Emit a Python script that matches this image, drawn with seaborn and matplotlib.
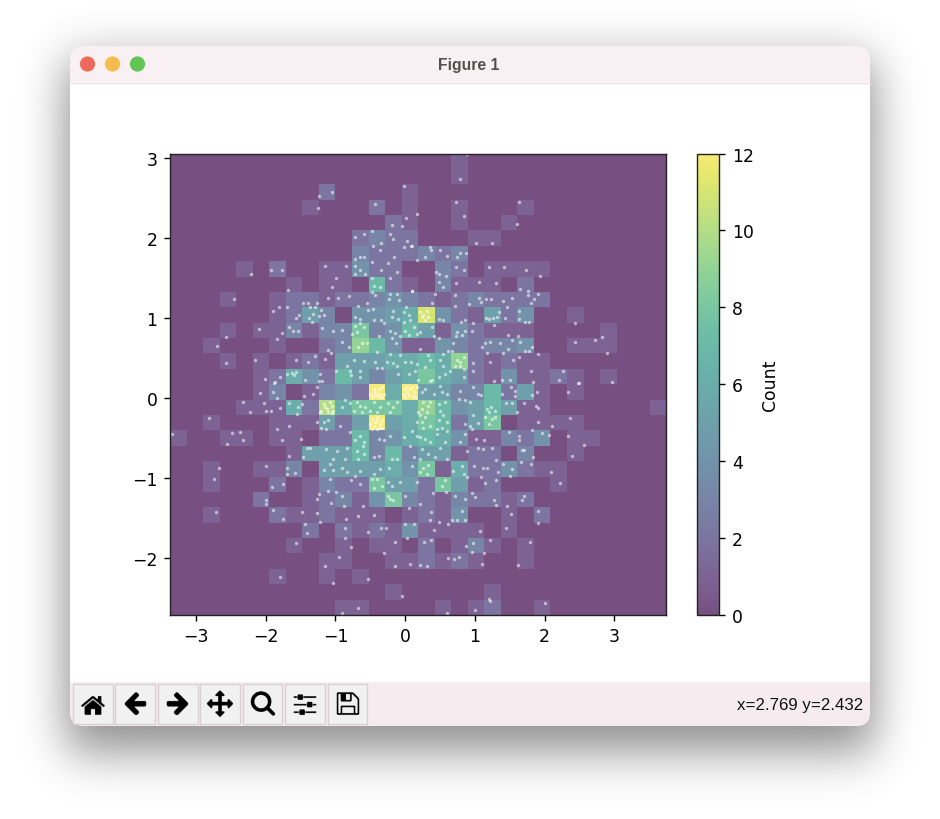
import math, os
import numpy as np
import pandas as pd
import matplotlib
matplotlib.use("Agg")
import matplotlib.pyplot as plt
from matplotlib.colors import ListedColormap
from matplotlib.patches import FancyBboxPatch, Circle, Rectangle
import seaborn as sns

# ---------- data ----------
counts = [
 [0,0,0,0,0,0,0,0,0,0,0,0,0,0,0,0,0,1,0,0,0,0,0,0,0,0,0,0,0,0],
 [0,0,0,0,0,0,0,0,0,0,0,0,0,0,0,0,0,1,0,0,0,0,0,0,0,0,0,0,0,0],
 [0,0,0,0,0,0,0,0,0,2,0,0,0,0,1,0,0,0,0,0,0,0,0,0,0,0,0,0,0,0],
 [0,0,0,0,0,0,0,0,1,0,0,0,2,0,1,0,0,1,0,0,0,1,0,0,0,0,0,0,0,0],
 [0,0,0,0,0,0,0,0,0,0,0,0,0,2,1,0,0,1,0,0,1,0,0,0,0,0,0,0,0,0],
 [0,0,0,0,0,0,0,0,0,0,0,2,3,2,2,0,0,0,1,1,0,0,0,0,0,0,0,0,0,0],
 [0,0,0,0,0,0,0,0,0,0,0,3,2,2,2,3,2,3,0,0,0,0,0,0,0,0,0,0,0,0],
 [0,0,0,0,1,0,2,0,0,1,1,4,2,2,0,0,3,2,0,1,1,1,1,0,0,0,0,0,0,0],
 [0,0,0,0,0,0,0,1,0,1,1,0,7,2,1,0,3,1,1,1,0,2,0,0,0,0,0,0,0,0],
 [0,0,0,1,0,0,1,2,2,1,2,2,3,4,3,2,1,2,3,2,2,2,2,0,0,0,0,0,0,0],
 [0,0,0,0,0,0,1,2,5,3,0,4,4,5,6,11,4,2,1,5,2,4,0,0,1,0,0,0,0,0],
 [0,0,0,1,0,1,1,3,1,3,3,8,3,4,7,5,1,4,2,1,1,1,0,0,0,0,1,0,0,0],
 [0,0,1,0,0,0,1,0,0,2,3,9,7,4,1,1,4,3,2,3,3,4,0,0,1,1,1,0,0,0],
 [0,0,0,1,0,1,0,1,2,1,5,5,5,6,6,7,6,9,2,1,2,1,1,0,0,0,0,0,0,0],
 [0,0,0,0,0,1,2,6,4,2,7,5,3,5,6,8,6,5,2,1,4,1,1,2,1,0,1,0,0,0],
 [0,0,0,0,0,1,3,0,1,3,4,2,12,6,12,5,5,3,3,7,2,5,1,0,1,0,0,0,0,0],
 [0,0,0,0,1,1,1,6,2,10,6,8,8,8,6,9,7,4,5,7,5,1,1,0,0,0,0,0,0,1],
 [0,0,1,0,0,0,1,1,1,5,2,5,12,5,6,8,7,2,5,8,0,1,1,1,1,0,0,0,0,0],
 [1,0,0,1,1,0,1,1,0,2,2,7,3,4,6,7,6,4,1,1,3,2,4,0,1,1,0,0,0,0],
 [0,0,0,0,0,0,0,1,5,5,5,7,3,7,3,5,5,1,2,2,0,3,0,0,1,0,0,0,0,0],
 [0,0,1,0,0,1,1,3,0,5,5,5,5,6,4,8,1,6,2,2,4,2,1,1,0,0,0,0,0,0],
 [0,0,1,0,0,0,2,0,1,3,2,2,8,5,5,2,8,5,1,2,0,0,0,1,0,0,0,0,0,0],
 [0,0,0,0,0,2,0,0,1,2,3,1,4,8,3,2,1,3,2,2,1,2,0,0,0,0,0,0,0,0],
 [0,0,1,0,0,0,2,1,1,2,1,1,1,0,1,2,1,4,0,0,1,0,2,0,0,0,0,0,0,0],
 [0,0,0,0,0,0,0,0,2,0,2,1,2,1,4,1,1,1,1,0,1,0,0,0,0,0,0,0,0,0],
 [0,0,0,0,0,0,0,1,0,0,1,0,1,1,0,2,0,1,3,1,0,1,0,0,0,0,0,0,0,0],
 [0,0,0,0,0,0,0,0,0,1,1,0,0,1,1,2,1,2,1,0,0,1,0,0,0,0,0,0,0,0],
 [0,0,0,0,0,0,1,0,0,1,0,1,0,0,0,0,0,0,0,0,0,0,0,0,0,0,0,0,0,0],
 [0,0,0,0,0,0,0,0,0,0,0,0,0,1,0,0,0,0,0,1,0,0,0,0,0,0,0,0,0,0],
 [0,0,0,0,0,0,0,0,0,0,1,1,0,0,0,0,1,0,1,2,0,0,1,0,0,0,0,0,0,0],
]

points_upper_left = [
 (-1.23,2.52),(-1.05,2.57),(-1.25,2.37),(-.43,2.42),(-.02,2.65),(.01,2.25),(.17,2.29),(-.19,2.16),(-.05,2.15),
 (-.59,2.05),(-.72,2.01),(-.48,2.08),(-.22,2.05),(-.18,1.98),(.03,1.96),(.08,1.90),(-.01,1.88),(-.34,1.93),
 (-.46,1.90),(-.36,1.85),(-.16,1.76),(-.59,1.76),(-.65,1.76),(-.72,1.73),(-.47,1.70),(-.24,1.68),(-2.21,1.55),
 (-1.93,1.59),(-1.76,1.59),(-1.15,1.64),(-.85,1.65),(-.72,1.65),(-.65,1.60),(-.72,1.54),(-.58,1.55),(-.34,1.60),
 (-.11,1.57),(-.99,1.50),(-1.05,1.38),(-1.68,1.35),(-.47,1.49),(-.22,1.49),(-.45,1.40),(-.36,1.38),(-.48,1.32),
 (-.43,1.28),(-2.46,1.23),(-1.10,1.25),(-.97,1.25),(-.80,1.27),(-1.81,1.14),(-1.89,1.08),(-1.69,1.13),(-1.47,1.18),
 (-1.39,1.18),(-1.27,1.18),(-1.36,1.13),(-1.29,1.13),(-1.20,1.10),(-1.17,1.04),(-1.23,1.02),(-1.32,1.05),(-1.38,1.00),
 (-1.33,.95),(-1.52,1.03),(-1.56,1.00),(-.68,1.15),(-.55,1.18),(-.54,1.10),(-.46,1.11),(-.72,1.01),(-.65,.98),
 (-.45,.97),(-.34,.97),(-.30,.93),(-.22,1.30),(-.11,1.30),(-.23,1.23),(-.09,1.22),(.10,1.33),(.01,1.13),(-.02,1.07),
 (.05,1.03),(-.17,1.09),(-.19,1.01),(-.10,.99),(-.02,.95),(.07,.97),(-2.09,.86),(-2.57,.76),(-2.70,.65),(-2.57,.44),
 (-2.15,.47),(-1.77,.81),(-1.84,.74),(-1.66,.88),(-1.61,.84),(-1.53,.84),(-1.19,.87),(-1.04,.84),(-.91,.85),(-.72,.90),
 (-.65,.93),(-.59,.89),(-.76,.80),(-.69,.82),(-.62,.68),(-.67,.63),(-.55,.68),(-.80,.63),(-.38,.77),(-.40,.57),(-.91,.70),
 (-1.10,.60),(-1.06,.56),(-.22,.84),(-.14,.81),(-.19,.75),(-.07,.77),(-.13,.68),(0,.84),(.12,.88),(.17,.80),(.05,.78),
 (-1.56,.47),(-1.39,.45),(-1.29,.52),(-1.15,.49),(-.99,.34),(-.84,.40),(-.79,.34),(-.77,.28),(-.59,.46),(-.65,.34),
 (-.65,.26),(-.74,.47),(-.43,.45),(-.41,.37),(-.33,.37),(-.26,.45),(-.17,.44),(-.11,.40),(0,.45),(.08,.45),(-.22,.55),
 (-.07,.53),(.05,.30),(.14,.34),(-.10,.30),(.17,.42),(-1.70,.30),(-1.62,.31),(-1.56,.32),(-1.60,.28),(-1.87,.20),
 (-1.79,.26),(-1.44,.22),(-1.22,.30),(-1.24,.21),(-1.19,.21),
]
points_upper_right = [
 (.885,3.04),(.79,2.73),(.73,2.44),(.84,2.27),(1.64,2.45),(1.60,2.17),(1.01,1.93),(1.25,1.93),(.10,1.90),(.17,1.72),
 (.36,1.88),(.37,1.85),(.29,1.76),(.50,1.84),(.60,1.77),(.79,1.81),(.88,1.81),(.74,1.76),(.44,1.57),(.49,1.54),(.59,1.52),
 (.49,1.45),(.55,1.38),(.73,1.63),(.85,1.60),(1.20,1.63),(1.42,1.63),(1.73,1.60),(1.93,1.52),(.73,1.43),(1.06,1.45),
 (1.30,1.43),(1.65,1.36),(1.76,1.34),(.10,1.33),(.43,1.30),(.38,1.18),(.72,1.29),(.72,1.15),(.91,1.17),(1.06,1.25),
 (1.09,1.20),(1.16,1.23),(1.23,1.24),(1.40,1.21),(1.53,1.25),(1.76,1.28),(1.85,1.23),(1.80,1.18),(1.91,1.30),(1.46,1.13),
 (1.43,1.00),(1.64,1.09),(1.64,.98),(1.72,.95),(1.77,.95),(1.34,1.07),(1.32,1.01),(1.26,1.00),(1.20,.98),(1.16,1.00),
 (1.27,.91),(.22,1.07),(.26,1.03),(.31,1.09),(.33,1.01),(.29,.97),(.24,1.01),(.49,.98),(.54,.97),(.80,.95),(.86,.97),
 (.97,.93),(.96,.84),(.86,.84),(.74,.82),(.81,.78),(.73,.77),(.38,.88),(.22,.82),(.42,.77),(.49,.75),(2.43,.94),(1.48,.78),
 (1.62,.77),(2.43,.70),(2.73,.72),(2.83,.76),(2.89,.56),(.22,.61),(.69,.68),(1.10,.63),(1.15,.68),(1.22,.70),(1.36,.68),
 (1.53,.72),(1.65,.70),(1.82,.63),(1.72,.58),(1.77,.59),(1.91,.55),(1.41,.56),(1.47,.61),(1.18,.56),(.62,.59),(.67,.59),
 (.55,.55),(.98,.43),(.98,.33),(1.21,.45),(1.54,.47),(1.63,.51),(1.80,.33),(.74,.47),(.79,.45),(.84,.51),(.79,.40),(.72,.40),
 (.84,.36),(.33,.54),(.50,.47),(.36,.47),(.29,.38),(.19,.22),(.38,.22),(.48,.26),(.57,.30),(.65,.34),(.55,.40),(2.20,.22),
 (2.26,.34),(2.49,.18),(2.96,.20),(1.84,.20),(1.51,.22),(1.27,.21),(1.39,.22),(.85,.26),
]
points_lower_left = [
 (-2.82,-.25),(-2.49,-.44),(-2.37,-.43),(-2.32,-.52),(-2.55,-.58),(-3.35,-.45),(-2.33,-.05),(-2.22,-.18),(-2.02,-.07),
 (-2.00,-.16),(-1.93,-.17),(-1.79,-.13),(-2.08,.06),(-2.01,.23),(-1.89,.07),(-1.88,.18),(-1.84,0),(-1.66,-.06),(-1.53,-.12),
 (-1.48,-.08),(-1.55,-.20),(-1.45,.02),(-1.32,.05),(-1.27,.13),(-1.84,-.39),(-1.66,-.35),(-1.27,-.30),(-1.50,-.51),
 (-1.76,-.53),(-2.67,-.87),(-2.74,-1.01),(-2.00,-.85),(-1.70,-.88),(-1.70,-.95),(-1.58,-.94),(-1.67,-.72),(-1.41,-.63),
 (-1.37,-.62),(-1.46,-.74),(-1.91,-1.11),(-1.75,-1.07),(-1.99,-1.27),(-1.99,-1.33),(-1.90,-1.40),(-1.75,-1.51),(-1.48,-1.42),
 (-1.27,-1.44),(-1.27,-1.26),(-1.23,-1.20),(-2.72,-1.43),(-1.43,-1.58),(-1.41,-1.69),(-1.56,-1.81),(-1.22,-1.55),(-1.79,-2.23),
 (-1.15,-2.10),(-.95,-1.98),(-1.03,-2.31),(-.53,-2.26),(-.05,-2.47),(-.67,-2.62),(-.90,-2.68),(-.86,-1.62),(-.86,-1.75),
 (-.78,-1.86),(-.53,-1.68),(-.35,-1.62),(-.28,-1.63),(-.14,-1.80),(-.30,-1.94),(-.15,-2.10),(.07,-2.07),(0,-1.58),(.12,-1.58),
 (.03,-1.75),(-.85,-1.51),(-.67,-1.48),(-.45,-1.46),(-.60,-1.35),(-.99,-1.18),(-1.07,-1.31),(-.91,-1.23),(-1.10,-1.16),
 (-.88,-1.35),(-.65,-1.08),(-.77,-1.03),(-1.08,-1.01),(-.48,-1.01),(-.41,-1.01),(-.33,-1.10),(-.45,-1.12),(-.24,-1.05),
 (-.19,-1.10),(-.07,-1.05),(.17,-1.05),(-.24,-1.22),(-.22,-1.26),(-.17,-1.28),(.05,-1.37),(0,-1.22),(-1.17,-.90),(-1.08,-.82),
 (-1.03,-.90),(-.91,-.87),(-.84,-.93),(-.65,-.91),(-.72,-.97),(-.45,-.95),(-.36,-.89),(-.23,-.87),(-.12,-.76),(-.19,-.76),
 (.12,-.74),(.10,-.85),(-1.14,-.64),(-.98,-.66),(-.84,-.62),(-1.03,-.76),(-.86,-.76),(-.69,-.66),(-.60,-.60),(-.67,-.76),
 (-.59,-.70),(-.65,-.47),(-.72,-.53),(-.59,-.55),(-.45,-.74),(-.38,-.72),(-.38,-.51),(-.31,-.53),(-.02,-.49),(-.22,-.48),
 (.10,-.41),(.17,-.47),(.07,-.60),(-1.17,-.30),(-1.13,-.39),(-1.10,-.28),(-1.20,-.37),(-.93,-.35),(-.79,-.43),
 (-.48,-.26),(-.41,-.24),(-.33,-.28),(-.45,-.35),(-.38,-.37),(-.50,-.33),(-.36,-.33),(-.43,-.30),(-.41,-.39),(-.48,-.39),
 (-.33,-.37),(-.41,-.28),(-.50,.05),(-.45,.11),(-.41,.03),(-.33,.13),(-.43,.07),(-.36,.05),(-.48,.01),(-.38,.11),(-.31,.05),
 (-.45,.03),(-.38,.01),(-.33,.01),(-.02,.11),(.05,.03),(.12,.07),(.17,.13),(.02,.07),(.10,.13),(0,.01),(.07,.11),(.14,.01),
 (-.03,.05),(.03,.13),(.11,.02),(-1.17,-.08),(-1.12,-.14),(-1.05,-.10),(-1.10,-.18),(-1.03,-.16),(-1.20,-.16),(-1.15,-.12),
 (-1.08,-.05),(-1.22,-.18),(-1.05,-.19),(-.69,-.05),(-.65,-.10),(-.57,-.12),(-.74,-.16),(-.62,-.18),(-.45,-.05),(-.36,-.12),
 (-.24,-.07),(-.17,-.12),(-.11,-.05),(-.22,-.18),(-.41,-.18),(-.50,-.16),(-.79,-.07),(-.91,-.12),(-.86,-.03),
]
points_lower_right = [
 (2.34,.07),(2.48,.18),(1.89,.07),(1.82,.04),(1.57,.09),(1.58,.02),(1.39,.05),(1.52,.13),(.79,.09),(.86,-.03),(.93,-.05),
 (.77,-.01),(1.09,.03),(.98,.13),(1.05,.05),(1.44,-.07),(1.53,-.07),(1.70,-.06),(1.88,-.10),(1.91,-.13),(1.60,-.18),
 (1.23,-.12),(1.20,-.18),(1.29,-.16),(1.15,-.24),(1.24,-.26),(1.20,-.33),(1.29,-.24),(1.17,-.14),(.86,-.32),(.93,-.35),
 (1.05,-.31),(.96,-.39),(.98,-.22),(1.90,-.30),(2.11,-.35),(2.36,-.25),(1.49,-.42),(1.64,-.47),(1.63,-.53),(1.96,-.44),
 (2.06,-.46),(1.82,-.40),(2.34,-.47),(2.57,-.59),(2.40,-.72),(1.84,-.74),(1.01,-.51),(1.13,-.53),(.79,-.55),(.86,-.45),
 (1.04,-.63),(1.11,-.64),(1.25,-.62),(1.30,-.77),(.89,-.66),(1.67,-.65),(1.70,-.65),(1.66,-.80),(1.80,-.82),(.99,-.85),
 (1.11,-.88),(1.18,-.88),(1.33,-.92),(1.53,-.89),(1.40,-.83),(1.50,-.97),(2.09,-.93),(2.22,-1.06),(1.09,-.99),(1.15,-1.06),
 (1.31,-1.03),(.81,-.85),(.85,-.95),(.69,-.91),(.89,-.99),(.26,-.87),(.33,-.84),(.31,-.95),(.22,-.93),(.57,-1.03),(.53,-1.10),
 (.59,-1.17),(.96,-1.19),(1.00,-1.24),(1.27,-1.27),(1.31,-1.34),(1.46,-1.35),(1.70,-1.22),(1.67,-1.28),(1.52,-1.45),(1.91,-1.41),
 (1.90,-1.56),(1.44,-1.63),(.71,-1.23),(.86,-1.26),(.81,-1.41),(.86,-1.53),(.67,-1.52),(.74,-1.53),(.62,-1.58),(.49,-1.55),
 (.36,-1.53),(.37,-1.42),(.22,-1.33),(.40,-1.19),(.41,-1.65),(1.07,-1.66),(1.21,-1.78),(1.79,-1.80),(.27,-1.80),(.37,-1.78),
 (.87,-1.85),(.98,-1.81),(.96,-1.92),(1.13,-1.93),(.61,-2.00),(.70,-2.01),(.77,-1.98),(.22,-2.08),(.31,-2.10),(1.10,-2.07),
 (1.62,-2.08),(1.20,-2.51),(1.22,-2.54),(1.00,-2.65),(.60,-2.69),(2.00,-2.56),(.26,-.05),(.33,-.10),(.24,-.14),(.31,-.18),
 (.22,-.22),(.36,-.05),(.29,-.24),(.24,-.30),(.36,-.35),(.26,-.37),(.19,-.18),(.17,-.30),(.48,-.08),(.57,-.05),(.50,-.16),
 (.55,-.22),(.48,-.28),(.60,-.30),(.53,-.37),(.60,-.41),(.45,-.39),(.24,.07),(.41,.05),(.50,.15),(.60,.05),(.53,.07),(.36,.21),
 (.29,.11),(.29,-.51),(.36,-.55),(.22,-.49),(.45,-.45),(.57,-.55),(.24,-.64),(.33,-.70),(.43,-.74),(.60,-.76),(.22,-.76),(.50,-.62),
]
xlim = (-3.373, 3.746)
ylim = (-2.71, 3.05)
colorbar_ticks = [0, 2, 4, 6, 8, 10, 12]
colorbar_label = "Count"
window_title = "Figure 1"
cursor_text = "x=2.769 y=2.432"

# ---------- figure and window decoration ----------
W, H = 940, 820
FS = 12.4
plt.rcParams["font.family"] = ["DejaVu Sans"]
plt.rcParams["font.size"] = FS
fig = plt.figure(figsize=(W / 100, H / 100), dpi=100, facecolor="white")

def rect(l, t, r, b):
    return [l / W, 1 - b / H, (r - l) / W, (b - t) / H]

chrome = fig.add_axes([0, 0, 1, 1], zorder=0)
erf = np.vectorize(math.erf)
def band(v, a, b, s):
    return 0.5 * (erf((v - a) / (s * 2**.5)) - erf((v - b) / (s * 2**.5)))
gx, gy = np.arange(W) + .5, np.arange(H) + .5
shadow = np.zeros((H, W, 4))
shadow[..., 3] = 0.45 * np.outer(band(gy, 62, 752, 24), band(gx, 66, 874, 22))
chrome.imshow(shadow, extent=(0, W, H, 0), aspect="auto", zorder=0, interpolation="bilinear")

def rounded(l, t, r, b, rad, **kw):
    return FancyBboxPatch((l + rad, t + rad), r - l - 2 * rad, b - t - 2 * rad,
                          boxstyle=f"round,pad={rad},rounding_size={rad}", **kw)

win = rounded(70, 47.5, 870, 727, 14, fc="white", ec="none", zorder=1)
chrome.add_patch(win)
title_bar = Rectangle((70, 47), 800, 36, fc="#f8f0f2", ec="none", zorder=2)
tool_bar = Rectangle((70, 683), 800, 44, fc="#f6ecef", ec="none", zorder=2)
chrome.add_patch(title_bar); chrome.add_patch(tool_bar)
title_bar.set_clip_path(win); tool_bar.set_clip_path(win)
chrome.plot([70, 870], [83.5, 83.5], color="#e6e2e3", lw=1, zorder=3)
for cx, col in zip((87.5, 112.5, 137.5), ("#ee6a5f", "#f5bd4f", "#61c554")):
    chrome.add_patch(Circle((cx, 65), 7.6, fc=col, ec="none", zorder=3))
chrome.text(469, 65.5, window_title, ha="center", va="center", fontsize=11.3, fontweight="bold",
            color="#55504f", family=["Liberation Sans", "DejaVu Sans"], zorder=3)
chrome.text(863.5, 706, cursor_text, ha="right", va="center", fontsize=12.2, color="#111111",
            family=["Liberation Sans", "DejaVu Sans"], zorder=3)

icon_dir = os.path.join(matplotlib.get_data_path(), "images")
icons = ["home", "back", "forward", "move", "zoom_to_rect", "subplots", "filesave"]
for left, name in zip((73, 115, 158, 200, 242.5, 285, 327.5), icons):
    chrome.add_patch(Rectangle((left, 685), 39.5, 40, fc="#f2f1f1", ec="#d8d0d2", lw=1, zorder=3))
    path = os.path.join(icon_dir, name + "_large.png")
    if os.path.exists(path):
        img = plt.imread(path)
        chrome.imshow(img, extent=(left + 6, left + 33.5, 718.5, 691), aspect="auto", zorder=4,
                      interpolation="antialiased")
chrome.set_xlim(0, W); chrome.set_ylim(H, 0); chrome.axis("off")

# ---------- the chart ----------
base = plt.get_cmap("viridis")(np.linspace(0, 1, 256))[:, :3]
grey = base @ np.array([0.30, 0.59, 0.11])
muted = grey[:, None] + 0.86 * (base - grey[:, None])
muted_viridis = ListedColormap(muted * 0.99)

grid_ax = fig.add_axes(rect(170, 154.5, 666.3, 616), zorder=1)
cbar_ax = fig.add_axes(rect(696.7, 154.5, 719.3, 616), zorder=1)
sns.heatmap(np.array(counts), ax=grid_ax, cbar_ax=cbar_ax, cmap=muted_viridis, vmin=0, vmax=12, alpha=0.7,
            xticklabels=False, yticklabels=False, cbar_kws={"label": colorbar_label, "ticks": colorbar_ticks})
grid_ax.tick_params(left=False, bottom=False)
cbar = grid_ax.collections[0].colorbar
cbar.outline.set_linewidth(1.0)
cbar.outline.set_edgecolor("#222222")
cbar.ax.tick_params(length=4.6, width=1.0, labelsize=FS, pad=4.4)
cbar.set_label(colorbar_label, fontsize=FS, labelpad=5.5)

all_points = points_upper_left + points_upper_right + points_lower_left + points_lower_right
frame = pd.DataFrame(all_points, columns=["x", "y"])
ax = fig.add_axes(rect(170, 154.5, 666.3, 616), zorder=2, facecolor="none")
sns.scatterplot(data=frame, x="x", y="y", ax=ax, s=6, color="white", alpha=0.55, linewidth=0, legend=False)
ax.set_xlim(*xlim); ax.set_ylim(*ylim)
ax.set_xlabel(""); ax.set_ylabel("")
ax.set_xticks(range(-3, 4)); ax.set_yticks(range(-2, 4))
ax.tick_params(length=4.6, width=1.0, labelsize=FS, pad=4.4)
for s in ax.spines.values():
    s.set_linewidth(1.0); s.set_edgecolor("#222222")

fig.savefig("out.png", dpi=100, facecolor="white")
